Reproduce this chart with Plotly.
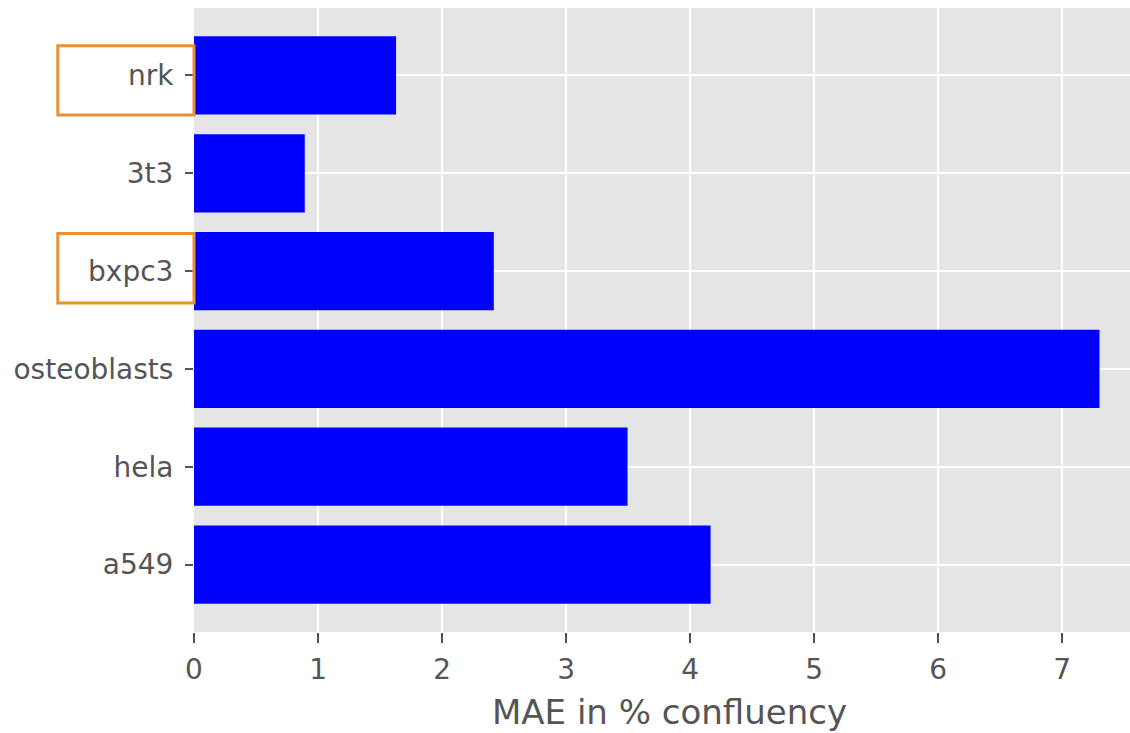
import plotly.graph_objects as go

# Mean absolute error per cell line (bottom to top)
cell_lines = ["a549", "hela", "osteoblasts", "bxpc3", "3t3", "nrk"]
mae_values = [4.165, 3.495, 7.30, 2.417, 0.893, 1.629]
highlighted = ["nrk", "bxpc3"]
x_ticks = [0, 1, 2, 3, 4, 5, 6, 7]

FONT = "DejaVu Sans"
GREY = "#555555"

# vertical nudge (in category units) of each hand-placed frame
frame_nudge = {"nrk": -0.03, "bxpc3": 0.05}

fig = go.Figure(
    go.Bar(
        x=mae_values,
        y=cell_lines,
        orientation="h",
        marker=dict(color="#0000FF", line=dict(width=0)),
    )
)

# Orange frames around selected tick labels
shapes = []
for name in highlighted:
    idx = cell_lines.index(name) + frame_nudge.get(name, 0.0)
    shapes.append(
        dict(
            type="rect",
            xref="paper",
            yref="y",
            x0=-0.1455,
            x1=0.0,
            y0=idx - 0.375,
            y1=idx + 0.335,
            line=dict(color="#E8912F", width=3),
            fillcolor="rgba(0,0,0,0)",
            layer="above",
        )
    )

fig.update_layout(
    width=1130,
    height=733,
    margin=dict(l=194, r=0, t=8, b=101),
    paper_bgcolor="white",
    plot_bgcolor="#E5E5E5",
    bargap=0.2,
    showlegend=False,
    font=dict(family=FONT, color=GREY),
    shapes=shapes,
    annotations=[
        dict(
            text="MAE in % confluency",
            xref="paper",
            yref="paper",
            x=0.5085,
            y=0,
            xanchor="center",
            yanchor="middle",
            yshift=-80,
            showarrow=False,
            font=dict(size=34, color=GREY, family=FONT),
        )
    ],
    xaxis=dict(
        range=[0, 7.546],
        tickvals=x_ticks,
        ticks="outside",
        ticklen=10,
        tickwidth=1.5,
        tickcolor=GREY,
        tickfont=dict(size=28, color=GREY, family=FONT),
        ticklabelstandoff=2,
        showgrid=True,
        gridcolor="white",
        gridwidth=2,
        zeroline=False,
        showline=False,
    ),
    yaxis=dict(
        type="category",
        categoryorder="array",
        categoryarray=cell_lines,
        range=[-0.69, 5.69],
        ticks="outside",
        ticklen=8,
        tickwidth=1.5,
        tickcolor=GREY,
        tickfont=dict(size=28, color=GREY, family=FONT),
        ticklabelstandoff=6,
        showgrid=True,
        gridcolor="white",
        gridwidth=2,
        zeroline=False,
        showline=False,
    ),
)

fig.write_html("out.html")
